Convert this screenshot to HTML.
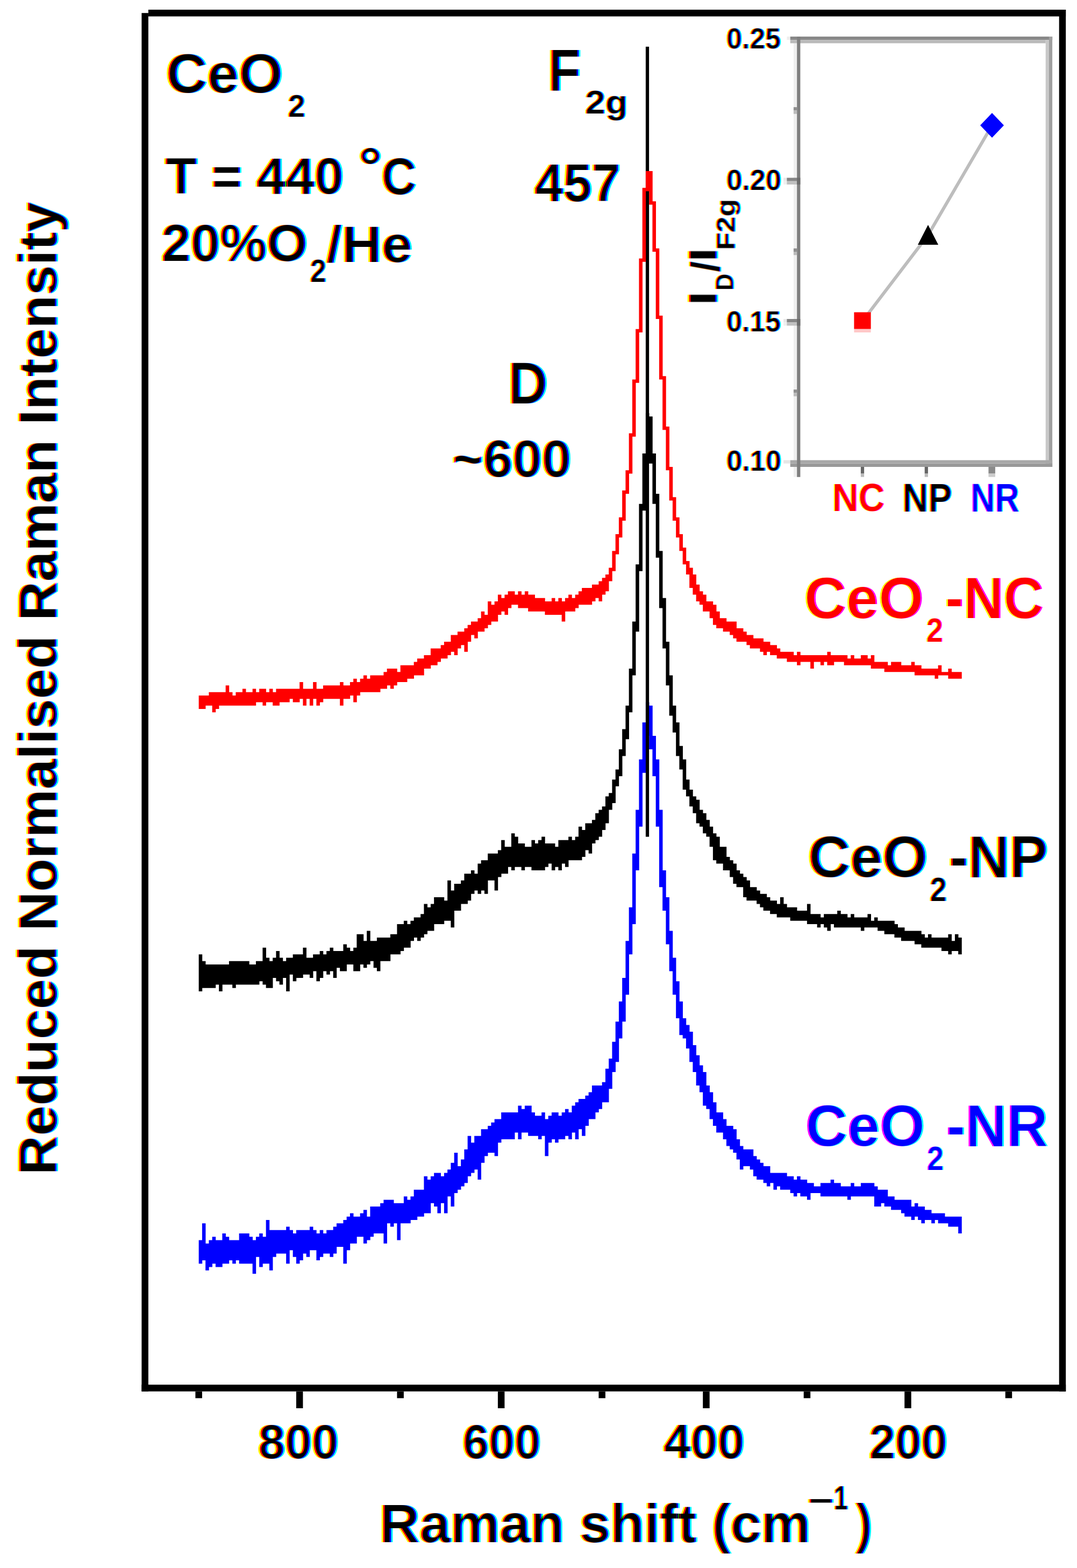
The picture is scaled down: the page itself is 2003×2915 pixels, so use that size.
<!DOCTYPE html>
<html><head><meta charset="utf-8"><title>CeO2 Raman spectra</title>
<style>
html,body{margin:0;padding:0;background:#fff;}
svg{display:block;}
text{font-family:"Liberation Sans",Arial,sans-serif;font-weight:bold;font-size:100px;}
</style></head>
<body>
<svg width="2003" height="2915" viewBox="0 0 2003 2915">
<defs><filter id="f_t_ceo" x="-0.15" y="-0.15" width="1.3" height="1.3" color-interpolation-filters="sRGB"><feOffset in="SourceAlpha" dx="-2.841" dy="-0.000" result="aL"/><feOffset in="SourceAlpha" dx="2.841" dy="0.000" result="aR"/><feFlood flood-color="#ffff00" result="fl0"/><feComposite in="fl0" in2="aL" operator="in" result="c0"/><feFlood flood-color="#ff00ff" result="fl1"/><feComposite in="fl1" in2="SourceAlpha" operator="in" result="c1"/><feFlood flood-color="#00ffff" result="fl2"/><feComposite in="fl2" in2="aR" operator="in" result="c2"/><feBlend in="c0" in2="c1" mode="multiply" result="b1"/><feBlend in="b1" in2="c2" mode="multiply" result="b2"/></filter>
<filter id="f_t_ceo2" x="-0.15" y="-0.15" width="1.3" height="1.3" color-interpolation-filters="sRGB"><feOffset in="SourceAlpha" dx="-3.600" dy="-0.000" result="aL"/><feOffset in="SourceAlpha" dx="3.600" dy="0.000" result="aR"/><feFlood flood-color="#ffff00" result="fl0"/><feComposite in="fl0" in2="aL" operator="in" result="c0"/><feFlood flood-color="#ff00ff" result="fl1"/><feComposite in="fl1" in2="SourceAlpha" operator="in" result="c1"/><feFlood flood-color="#00ffff" result="fl2"/><feComposite in="fl2" in2="aR" operator="in" result="c2"/><feBlend in="c0" in2="c1" mode="multiply" result="b1"/><feBlend in="b1" in2="c2" mode="multiply" result="b2"/></filter>
<filter id="f_t_T" x="-0.15" y="-0.15" width="1.3" height="1.3" color-interpolation-filters="sRGB"><feOffset in="SourceAlpha" dx="-3.092" dy="-0.000" result="aL"/><feOffset in="SourceAlpha" dx="3.092" dy="0.000" result="aR"/><feFlood flood-color="#ffff00" result="fl0"/><feComposite in="fl0" in2="aL" operator="in" result="c0"/><feFlood flood-color="#ff00ff" result="fl1"/><feComposite in="fl1" in2="SourceAlpha" operator="in" result="c1"/><feFlood flood-color="#00ffff" result="fl2"/><feComposite in="fl2" in2="aR" operator="in" result="c2"/><feBlend in="c0" in2="c1" mode="multiply" result="b1"/><feBlend in="b1" in2="c2" mode="multiply" result="b2"/></filter>
<filter id="f_t_deg" x="-0.15" y="-0.15" width="1.3" height="1.3" color-interpolation-filters="sRGB"><feOffset in="SourceAlpha" dx="-2.735" dy="-0.000" result="aL"/><feOffset in="SourceAlpha" dx="2.735" dy="0.000" result="aR"/><feFlood flood-color="#ffff00" result="fl0"/><feComposite in="fl0" in2="aL" operator="in" result="c0"/><feFlood flood-color="#ff00ff" result="fl1"/><feComposite in="fl1" in2="SourceAlpha" operator="in" result="c1"/><feFlood flood-color="#00ffff" result="fl2"/><feComposite in="fl2" in2="aR" operator="in" result="c2"/><feBlend in="c0" in2="c1" mode="multiply" result="b1"/><feBlend in="b1" in2="c2" mode="multiply" result="b2"/></filter>
<filter id="f_t_C" x="-0.15" y="-0.15" width="1.3" height="1.3" color-interpolation-filters="sRGB"><feOffset in="SourceAlpha" dx="-3.368" dy="-0.000" result="aL"/><feOffset in="SourceAlpha" dx="3.368" dy="0.000" result="aR"/><feFlood flood-color="#ffff00" result="fl0"/><feComposite in="fl0" in2="aL" operator="in" result="c0"/><feFlood flood-color="#ff00ff" result="fl1"/><feComposite in="fl1" in2="SourceAlpha" operator="in" result="c1"/><feFlood flood-color="#00ffff" result="fl2"/><feComposite in="fl2" in2="aR" operator="in" result="c2"/><feBlend in="c0" in2="c1" mode="multiply" result="b1"/><feBlend in="b1" in2="c2" mode="multiply" result="b2"/></filter>
<filter id="f_t_20" x="-0.15" y="-0.15" width="1.3" height="1.3" color-interpolation-filters="sRGB"><feOffset in="SourceAlpha" dx="-3.068" dy="-0.000" result="aL"/><feOffset in="SourceAlpha" dx="3.068" dy="0.000" result="aR"/><feFlood flood-color="#ffff00" result="fl0"/><feComposite in="fl0" in2="aL" operator="in" result="c0"/><feFlood flood-color="#ff00ff" result="fl1"/><feComposite in="fl1" in2="SourceAlpha" operator="in" result="c1"/><feFlood flood-color="#00ffff" result="fl2"/><feComposite in="fl2" in2="aR" operator="in" result="c2"/><feBlend in="c0" in2="c1" mode="multiply" result="b1"/><feBlend in="b1" in2="c2" mode="multiply" result="b2"/></filter>
<filter id="f_t_20s" x="-0.15" y="-0.15" width="1.3" height="1.3" color-interpolation-filters="sRGB"><feOffset in="SourceAlpha" dx="-3.877" dy="-0.000" result="aL"/><feOffset in="SourceAlpha" dx="3.877" dy="0.000" result="aR"/><feFlood flood-color="#ffff00" result="fl0"/><feComposite in="fl0" in2="aL" operator="in" result="c0"/><feFlood flood-color="#ff00ff" result="fl1"/><feComposite in="fl1" in2="SourceAlpha" operator="in" result="c1"/><feFlood flood-color="#00ffff" result="fl2"/><feComposite in="fl2" in2="aR" operator="in" result="c2"/><feBlend in="c0" in2="c1" mode="multiply" result="b1"/><feBlend in="b1" in2="c2" mode="multiply" result="b2"/></filter>
<filter id="f_t_he" x="-0.15" y="-0.15" width="1.3" height="1.3" color-interpolation-filters="sRGB"><feOffset in="SourceAlpha" dx="-2.922" dy="-0.000" result="aL"/><feOffset in="SourceAlpha" dx="2.922" dy="0.000" result="aR"/><feFlood flood-color="#ffff00" result="fl0"/><feComposite in="fl0" in2="aL" operator="in" result="c0"/><feFlood flood-color="#ff00ff" result="fl1"/><feComposite in="fl1" in2="SourceAlpha" operator="in" result="c1"/><feFlood flood-color="#00ffff" result="fl2"/><feComposite in="fl2" in2="aR" operator="in" result="c2"/><feBlend in="c0" in2="c1" mode="multiply" result="b1"/><feBlend in="b1" in2="c2" mode="multiply" result="b2"/></filter>
<filter id="f_t_F" x="-0.15" y="-0.15" width="1.3" height="1.3" color-interpolation-filters="sRGB"><feOffset in="SourceAlpha" dx="-3.000" dy="-0.000" result="aL"/><feOffset in="SourceAlpha" dx="3.000" dy="0.000" result="aR"/><feFlood flood-color="#ffff00" result="fl0"/><feComposite in="fl0" in2="aL" operator="in" result="c0"/><feFlood flood-color="#ff00ff" result="fl1"/><feComposite in="fl1" in2="SourceAlpha" operator="in" result="c1"/><feFlood flood-color="#00ffff" result="fl2"/><feComposite in="fl2" in2="aR" operator="in" result="c2"/><feBlend in="c0" in2="c1" mode="multiply" result="b1"/><feBlend in="b1" in2="c2" mode="multiply" result="b2"/></filter>
<filter id="f_t_2g" x="-0.15" y="-0.15" width="1.3" height="1.3" color-interpolation-filters="sRGB"><feOffset in="SourceAlpha" dx="-3.092" dy="-0.000" result="aL"/><feOffset in="SourceAlpha" dx="3.092" dy="0.000" result="aR"/><feFlood flood-color="#ffff00" result="fl0"/><feComposite in="fl0" in2="aL" operator="in" result="c0"/><feFlood flood-color="#ff00ff" result="fl1"/><feComposite in="fl1" in2="SourceAlpha" operator="in" result="c1"/><feFlood flood-color="#00ffff" result="fl2"/><feComposite in="fl2" in2="aR" operator="in" result="c2"/><feBlend in="c0" in2="c1" mode="multiply" result="b1"/><feBlend in="b1" in2="c2" mode="multiply" result="b2"/></filter>
<filter id="f_t_457" x="-0.15" y="-0.15" width="1.3" height="1.3" color-interpolation-filters="sRGB"><feOffset in="SourceAlpha" dx="-3.138" dy="-0.000" result="aL"/><feOffset in="SourceAlpha" dx="3.138" dy="0.000" result="aR"/><feFlood flood-color="#ffff00" result="fl0"/><feComposite in="fl0" in2="aL" operator="in" result="c0"/><feFlood flood-color="#ff00ff" result="fl1"/><feComposite in="fl1" in2="SourceAlpha" operator="in" result="c1"/><feFlood flood-color="#00ffff" result="fl2"/><feComposite in="fl2" in2="aR" operator="in" result="c2"/><feBlend in="c0" in2="c1" mode="multiply" result="b1"/><feBlend in="b1" in2="c2" mode="multiply" result="b2"/></filter>
<filter id="f_t_D" x="-0.15" y="-0.15" width="1.3" height="1.3" color-interpolation-filters="sRGB"><feOffset in="SourceAlpha" dx="-2.951" dy="-0.000" result="aL"/><feOffset in="SourceAlpha" dx="2.951" dy="0.000" result="aR"/><feFlood flood-color="#ffff00" result="fl0"/><feComposite in="fl0" in2="aL" operator="in" result="c0"/><feFlood flood-color="#ff00ff" result="fl1"/><feComposite in="fl1" in2="SourceAlpha" operator="in" result="c1"/><feFlood flood-color="#00ffff" result="fl2"/><feComposite in="fl2" in2="aR" operator="in" result="c2"/><feBlend in="c0" in2="c1" mode="multiply" result="b1"/><feBlend in="b1" in2="c2" mode="multiply" result="b2"/></filter>
<filter id="f_t_600" x="-0.15" y="-0.15" width="1.3" height="1.3" color-interpolation-filters="sRGB"><feOffset in="SourceAlpha" dx="-3.057" dy="-0.000" result="aL"/><feOffset in="SourceAlpha" dx="3.057" dy="0.000" result="aR"/><feFlood flood-color="#ffff00" result="fl0"/><feComposite in="fl0" in2="aL" operator="in" result="c0"/><feFlood flood-color="#ff00ff" result="fl1"/><feComposite in="fl1" in2="SourceAlpha" operator="in" result="c1"/><feFlood flood-color="#00ffff" result="fl2"/><feComposite in="fl2" in2="aR" operator="in" result="c2"/><feBlend in="c0" in2="c1" mode="multiply" result="b1"/><feBlend in="b1" in2="c2" mode="multiply" result="b2"/></filter>
<filter id="f_t_nc1" x="-0.15" y="-0.15" width="1.3" height="1.3" color-interpolation-filters="sRGB"><feOffset in="SourceAlpha" dx="-2.774" dy="-0.000" result="aL"/><feOffset in="SourceAlpha" dx="2.774" dy="0.000" result="aR"/><feFlood flood-color="#ffff00" result="fl0"/><feComposite in="fl0" in2="aL" operator="in" result="c0"/><feFlood flood-color="#ff00ff" result="fl1"/><feComposite in="fl1" in2="SourceAlpha" operator="in" result="c1"/><feBlend in="c0" in2="c1" mode="multiply" result="b1"/></filter>
<filter id="f_t_nc2" x="-0.15" y="-0.15" width="1.3" height="1.3" color-interpolation-filters="sRGB"><feOffset in="SourceAlpha" dx="-3.733" dy="-0.000" result="aL"/><feOffset in="SourceAlpha" dx="3.733" dy="0.000" result="aR"/><feFlood flood-color="#ffff00" result="fl0"/><feComposite in="fl0" in2="aL" operator="in" result="c0"/><feFlood flood-color="#ff00ff" result="fl1"/><feComposite in="fl1" in2="SourceAlpha" operator="in" result="c1"/><feBlend in="c0" in2="c1" mode="multiply" result="b1"/></filter>
<filter id="f_t_nc3" x="-0.15" y="-0.15" width="1.3" height="1.3" color-interpolation-filters="sRGB"><feOffset in="SourceAlpha" dx="-2.914" dy="-0.000" result="aL"/><feOffset in="SourceAlpha" dx="2.914" dy="0.000" result="aR"/><feFlood flood-color="#ffff00" result="fl0"/><feComposite in="fl0" in2="aL" operator="in" result="c0"/><feFlood flood-color="#ff00ff" result="fl1"/><feComposite in="fl1" in2="SourceAlpha" operator="in" result="c1"/><feBlend in="c0" in2="c1" mode="multiply" result="b1"/></filter>
<filter id="f_t_np1" x="-0.15" y="-0.15" width="1.3" height="1.3" color-interpolation-filters="sRGB"><feOffset in="SourceAlpha" dx="-2.774" dy="-0.000" result="aL"/><feOffset in="SourceAlpha" dx="2.774" dy="0.000" result="aR"/><feFlood flood-color="#ffff00" result="fl0"/><feComposite in="fl0" in2="aL" operator="in" result="c0"/><feFlood flood-color="#ff00ff" result="fl1"/><feComposite in="fl1" in2="SourceAlpha" operator="in" result="c1"/><feFlood flood-color="#00ffff" result="fl2"/><feComposite in="fl2" in2="aR" operator="in" result="c2"/><feBlend in="c0" in2="c1" mode="multiply" result="b1"/><feBlend in="b1" in2="c2" mode="multiply" result="b2"/></filter>
<filter id="f_t_np2" x="-0.15" y="-0.15" width="1.3" height="1.3" color-interpolation-filters="sRGB"><feOffset in="SourceAlpha" dx="-3.733" dy="-0.000" result="aL"/><feOffset in="SourceAlpha" dx="3.733" dy="0.000" result="aR"/><feFlood flood-color="#ffff00" result="fl0"/><feComposite in="fl0" in2="aL" operator="in" result="c0"/><feFlood flood-color="#ff00ff" result="fl1"/><feComposite in="fl1" in2="SourceAlpha" operator="in" result="c1"/><feFlood flood-color="#00ffff" result="fl2"/><feComposite in="fl2" in2="aR" operator="in" result="c2"/><feBlend in="c0" in2="c1" mode="multiply" result="b1"/><feBlend in="b1" in2="c2" mode="multiply" result="b2"/></filter>
<filter id="f_t_np3" x="-0.15" y="-0.15" width="1.3" height="1.3" color-interpolation-filters="sRGB"><feOffset in="SourceAlpha" dx="-2.811" dy="-0.000" result="aL"/><feOffset in="SourceAlpha" dx="2.811" dy="0.000" result="aR"/><feFlood flood-color="#ffff00" result="fl0"/><feComposite in="fl0" in2="aL" operator="in" result="c0"/><feFlood flood-color="#ff00ff" result="fl1"/><feComposite in="fl1" in2="SourceAlpha" operator="in" result="c1"/><feFlood flood-color="#00ffff" result="fl2"/><feComposite in="fl2" in2="aR" operator="in" result="c2"/><feBlend in="c0" in2="c1" mode="multiply" result="b1"/><feBlend in="b1" in2="c2" mode="multiply" result="b2"/></filter>
<filter id="f_t_nr1" x="-0.15" y="-0.15" width="1.3" height="1.3" color-interpolation-filters="sRGB"><feOffset in="SourceAlpha" dx="-2.774" dy="-0.000" result="aL"/><feOffset in="SourceAlpha" dx="2.774" dy="0.000" result="aR"/><feFlood flood-color="#ff00ff" result="fl0"/><feComposite in="fl0" in2="SourceAlpha" operator="in" result="c0"/><feFlood flood-color="#00ffff" result="fl1"/><feComposite in="fl1" in2="aR" operator="in" result="c1"/><feBlend in="c0" in2="c1" mode="multiply" result="b1"/></filter>
<filter id="f_t_nr2" x="-0.15" y="-0.15" width="1.3" height="1.3" color-interpolation-filters="sRGB"><feOffset in="SourceAlpha" dx="-3.733" dy="-0.000" result="aL"/><feOffset in="SourceAlpha" dx="3.733" dy="0.000" result="aR"/><feFlood flood-color="#ff00ff" result="fl0"/><feComposite in="fl0" in2="SourceAlpha" operator="in" result="c0"/><feFlood flood-color="#00ffff" result="fl1"/><feComposite in="fl1" in2="aR" operator="in" result="c1"/><feBlend in="c0" in2="c1" mode="multiply" result="b1"/></filter>
<filter id="f_t_nr3" x="-0.15" y="-0.15" width="1.3" height="1.3" color-interpolation-filters="sRGB"><feOffset in="SourceAlpha" dx="-2.818" dy="-0.000" result="aL"/><feOffset in="SourceAlpha" dx="2.818" dy="0.000" result="aR"/><feFlood flood-color="#ff00ff" result="fl0"/><feComposite in="fl0" in2="SourceAlpha" operator="in" result="c0"/><feFlood flood-color="#00ffff" result="fl1"/><feComposite in="fl1" in2="aR" operator="in" result="c1"/><feBlend in="c0" in2="c1" mode="multiply" result="b1"/></filter>
<filter id="f_t_800" x="-0.15" y="-0.15" width="1.3" height="1.3" color-interpolation-filters="sRGB"><feOffset in="SourceAlpha" dx="-3.359" dy="-0.000" result="aL"/><feOffset in="SourceAlpha" dx="3.359" dy="0.000" result="aR"/><feFlood flood-color="#ffff00" result="fl0"/><feComposite in="fl0" in2="aL" operator="in" result="c0"/><feFlood flood-color="#ff00ff" result="fl1"/><feComposite in="fl1" in2="SourceAlpha" operator="in" result="c1"/><feFlood flood-color="#00ffff" result="fl2"/><feComposite in="fl2" in2="aR" operator="in" result="c2"/><feBlend in="c0" in2="c1" mode="multiply" result="b1"/><feBlend in="b1" in2="c2" mode="multiply" result="b2"/></filter>
<filter id="f_t_600b" x="-0.15" y="-0.15" width="1.3" height="1.3" color-interpolation-filters="sRGB"><feOffset in="SourceAlpha" dx="-3.460" dy="-0.000" result="aL"/><feOffset in="SourceAlpha" dx="3.460" dy="0.000" result="aR"/><feFlood flood-color="#ffff00" result="fl0"/><feComposite in="fl0" in2="aL" operator="in" result="c0"/><feFlood flood-color="#ff00ff" result="fl1"/><feComposite in="fl1" in2="SourceAlpha" operator="in" result="c1"/><feFlood flood-color="#00ffff" result="fl2"/><feComposite in="fl2" in2="aR" operator="in" result="c2"/><feBlend in="c0" in2="c1" mode="multiply" result="b1"/><feBlend in="b1" in2="c2" mode="multiply" result="b2"/></filter>
<filter id="f_t_400" x="-0.15" y="-0.15" width="1.3" height="1.3" color-interpolation-filters="sRGB"><feOffset in="SourceAlpha" dx="-3.333" dy="-0.000" result="aL"/><feOffset in="SourceAlpha" dx="3.333" dy="0.000" result="aR"/><feFlood flood-color="#ffff00" result="fl0"/><feComposite in="fl0" in2="aL" operator="in" result="c0"/><feFlood flood-color="#ff00ff" result="fl1"/><feComposite in="fl1" in2="SourceAlpha" operator="in" result="c1"/><feFlood flood-color="#00ffff" result="fl2"/><feComposite in="fl2" in2="aR" operator="in" result="c2"/><feBlend in="c0" in2="c1" mode="multiply" result="b1"/><feBlend in="b1" in2="c2" mode="multiply" result="b2"/></filter>
<filter id="f_t_200" x="-0.15" y="-0.15" width="1.3" height="1.3" color-interpolation-filters="sRGB"><feOffset in="SourceAlpha" dx="-3.457" dy="-0.000" result="aL"/><feOffset in="SourceAlpha" dx="3.457" dy="0.000" result="aR"/><feFlood flood-color="#ffff00" result="fl0"/><feComposite in="fl0" in2="aL" operator="in" result="c0"/><feFlood flood-color="#ff00ff" result="fl1"/><feComposite in="fl1" in2="SourceAlpha" operator="in" result="c1"/><feFlood flood-color="#00ffff" result="fl2"/><feComposite in="fl2" in2="aR" operator="in" result="c2"/><feBlend in="c0" in2="c1" mode="multiply" result="b1"/><feBlend in="b1" in2="c2" mode="multiply" result="b2"/></filter>
<filter id="f_t_raman" x="-0.15" y="-0.15" width="1.3" height="1.3" color-interpolation-filters="sRGB"><feOffset in="SourceAlpha" dx="-2.912" dy="-0.000" result="aL"/><feOffset in="SourceAlpha" dx="2.912" dy="0.000" result="aR"/><feFlood flood-color="#ffff00" result="fl0"/><feComposite in="fl0" in2="aL" operator="in" result="c0"/><feFlood flood-color="#ff00ff" result="fl1"/><feComposite in="fl1" in2="SourceAlpha" operator="in" result="c1"/><feFlood flood-color="#00ffff" result="fl2"/><feComposite in="fl2" in2="aR" operator="in" result="c2"/><feBlend in="c0" in2="c1" mode="multiply" result="b1"/><feBlend in="b1" in2="c2" mode="multiply" result="b2"/></filter>
<filter id="f_t_minus" x="-0.15" y="-0.15" width="1.3" height="1.3" color-interpolation-filters="sRGB"><feOffset in="SourceAlpha" dx="-3.585" dy="-0.000" result="aL"/><feOffset in="SourceAlpha" dx="3.585" dy="0.000" result="aR"/><feFlood flood-color="#ffff00" result="fl0"/><feComposite in="fl0" in2="aL" operator="in" result="c0"/><feFlood flood-color="#ff00ff" result="fl1"/><feComposite in="fl1" in2="SourceAlpha" operator="in" result="c1"/><feFlood flood-color="#00ffff" result="fl2"/><feComposite in="fl2" in2="aR" operator="in" result="c2"/><feBlend in="c0" in2="c1" mode="multiply" result="b1"/><feBlend in="b1" in2="c2" mode="multiply" result="b2"/></filter>
<filter id="f_t_one" x="-0.15" y="-0.15" width="1.3" height="1.3" color-interpolation-filters="sRGB"><feOffset in="SourceAlpha" dx="-4.391" dy="-0.000" result="aL"/><feOffset in="SourceAlpha" dx="4.391" dy="0.000" result="aR"/><feFlood flood-color="#ffff00" result="fl0"/><feComposite in="fl0" in2="aL" operator="in" result="c0"/><feFlood flood-color="#ff00ff" result="fl1"/><feComposite in="fl1" in2="SourceAlpha" operator="in" result="c1"/><feFlood flood-color="#00ffff" result="fl2"/><feComposite in="fl2" in2="aR" operator="in" result="c2"/><feBlend in="c0" in2="c1" mode="multiply" result="b1"/><feBlend in="b1" in2="c2" mode="multiply" result="b2"/></filter>
<filter id="f_t_rpar" x="-0.15" y="-0.15" width="1.3" height="1.3" color-interpolation-filters="sRGB"><feOffset in="SourceAlpha" dx="-3.375" dy="-0.000" result="aL"/><feOffset in="SourceAlpha" dx="3.375" dy="0.000" result="aR"/><feFlood flood-color="#ffff00" result="fl0"/><feComposite in="fl0" in2="aL" operator="in" result="c0"/><feFlood flood-color="#ff00ff" result="fl1"/><feComposite in="fl1" in2="SourceAlpha" operator="in" result="c1"/><feFlood flood-color="#00ffff" result="fl2"/><feComposite in="fl2" in2="aR" operator="in" result="c2"/><feBlend in="c0" in2="c1" mode="multiply" result="b1"/><feBlend in="b1" in2="c2" mode="multiply" result="b2"/></filter>
<filter id="f_t_ylab" x="-0.15" y="-0.15" width="1.3" height="1.3" color-interpolation-filters="sRGB"><feOffset in="SourceAlpha" dx="-0.000" dy="-3.000" result="aL"/><feOffset in="SourceAlpha" dx="0.000" dy="3.000" result="aR"/><feFlood flood-color="#ffff00" result="fl0"/><feComposite in="fl0" in2="aL" operator="in" result="c0"/><feFlood flood-color="#ff00ff" result="fl1"/><feComposite in="fl1" in2="SourceAlpha" operator="in" result="c1"/><feFlood flood-color="#00ffff" result="fl2"/><feComposite in="fl2" in2="aR" operator="in" result="c2"/><feBlend in="c0" in2="c1" mode="multiply" result="b1"/><feBlend in="b1" in2="c2" mode="multiply" result="b2"/></filter>
<filter id="f_t_i25" x="-0.15" y="-0.15" width="1.3" height="1.3" color-interpolation-filters="sRGB"><feOffset in="SourceAlpha" dx="-4.048" dy="-0.000" result="aL"/><feOffset in="SourceAlpha" dx="4.048" dy="0.000" result="aR"/><feFlood flood-color="#ffff00" result="fl0"/><feComposite in="fl0" in2="aL" operator="in" result="c0"/><feFlood flood-color="#ff00ff" result="fl1"/><feComposite in="fl1" in2="SourceAlpha" operator="in" result="c1"/><feFlood flood-color="#00ffff" result="fl2"/><feComposite in="fl2" in2="aR" operator="in" result="c2"/><feBlend in="c0" in2="c1" mode="multiply" result="b1"/><feBlend in="b1" in2="c2" mode="multiply" result="b2"/></filter>
<filter id="f_t_i20" x="-0.15" y="-0.15" width="1.3" height="1.3" color-interpolation-filters="sRGB"><feOffset in="SourceAlpha" dx="-4.005" dy="-0.000" result="aL"/><feOffset in="SourceAlpha" dx="4.005" dy="0.000" result="aR"/><feFlood flood-color="#ffff00" result="fl0"/><feComposite in="fl0" in2="aL" operator="in" result="c0"/><feFlood flood-color="#ff00ff" result="fl1"/><feComposite in="fl1" in2="SourceAlpha" operator="in" result="c1"/><feFlood flood-color="#00ffff" result="fl2"/><feComposite in="fl2" in2="aR" operator="in" result="c2"/><feBlend in="c0" in2="c1" mode="multiply" result="b1"/><feBlend in="b1" in2="c2" mode="multiply" result="b2"/></filter>
<filter id="f_t_i15" x="-0.15" y="-0.15" width="1.3" height="1.3" color-interpolation-filters="sRGB"><feOffset in="SourceAlpha" dx="-4.048" dy="-0.000" result="aL"/><feOffset in="SourceAlpha" dx="4.048" dy="0.000" result="aR"/><feFlood flood-color="#ffff00" result="fl0"/><feComposite in="fl0" in2="aL" operator="in" result="c0"/><feFlood flood-color="#ff00ff" result="fl1"/><feComposite in="fl1" in2="SourceAlpha" operator="in" result="c1"/><feFlood flood-color="#00ffff" result="fl2"/><feComposite in="fl2" in2="aR" operator="in" result="c2"/><feBlend in="c0" in2="c1" mode="multiply" result="b1"/><feBlend in="b1" in2="c2" mode="multiply" result="b2"/></filter>
<filter id="f_t_i10" x="-0.15" y="-0.15" width="1.3" height="1.3" color-interpolation-filters="sRGB"><feOffset in="SourceAlpha" dx="-4.005" dy="-0.000" result="aL"/><feOffset in="SourceAlpha" dx="4.005" dy="0.000" result="aR"/><feFlood flood-color="#ffff00" result="fl0"/><feComposite in="fl0" in2="aL" operator="in" result="c0"/><feFlood flood-color="#ff00ff" result="fl1"/><feComposite in="fl1" in2="SourceAlpha" operator="in" result="c1"/><feFlood flood-color="#00ffff" result="fl2"/><feComposite in="fl2" in2="aR" operator="in" result="c2"/><feBlend in="c0" in2="c1" mode="multiply" result="b1"/><feBlend in="b1" in2="c2" mode="multiply" result="b2"/></filter>
<filter id="f_t_iNC" x="-0.15" y="-0.15" width="1.3" height="1.3" color-interpolation-filters="sRGB"><feOffset in="SourceAlpha" dx="-3.103" dy="-0.000" result="aL"/><feOffset in="SourceAlpha" dx="3.103" dy="0.000" result="aR"/><feFlood flood-color="#ffff00" result="fl0"/><feComposite in="fl0" in2="aL" operator="in" result="c0"/><feFlood flood-color="#ff00ff" result="fl1"/><feComposite in="fl1" in2="SourceAlpha" operator="in" result="c1"/><feBlend in="c0" in2="c1" mode="multiply" result="b1"/></filter>
<filter id="f_t_iNP" x="-0.15" y="-0.15" width="1.3" height="1.3" color-interpolation-filters="sRGB"><feOffset in="SourceAlpha" dx="-3.175" dy="-0.000" result="aL"/><feOffset in="SourceAlpha" dx="3.175" dy="0.000" result="aR"/><feFlood flood-color="#ffff00" result="fl0"/><feComposite in="fl0" in2="aL" operator="in" result="c0"/><feFlood flood-color="#ff00ff" result="fl1"/><feComposite in="fl1" in2="SourceAlpha" operator="in" result="c1"/><feFlood flood-color="#00ffff" result="fl2"/><feComposite in="fl2" in2="aR" operator="in" result="c2"/><feBlend in="c0" in2="c1" mode="multiply" result="b1"/><feBlend in="b1" in2="c2" mode="multiply" result="b2"/></filter>
<filter id="f_t_iNR" x="-0.15" y="-0.15" width="1.3" height="1.3" color-interpolation-filters="sRGB"><feOffset in="SourceAlpha" dx="-3.350" dy="-0.000" result="aL"/><feOffset in="SourceAlpha" dx="3.350" dy="0.000" result="aR"/><feFlood flood-color="#ff00ff" result="fl0"/><feComposite in="fl0" in2="SourceAlpha" operator="in" result="c0"/><feFlood flood-color="#00ffff" result="fl1"/><feComposite in="fl1" in2="aR" operator="in" result="c1"/><feBlend in="c0" in2="c1" mode="multiply" result="b1"/></filter>
<filter id="f_t_iI1" x="-0.15" y="-0.15" width="1.3" height="1.3" color-interpolation-filters="sRGB"><feOffset in="SourceAlpha" dx="-0.000" dy="-4.080" result="aL"/><feOffset in="SourceAlpha" dx="0.000" dy="4.080" result="aR"/><feFlood flood-color="#ffff00" result="fl0"/><feComposite in="fl0" in2="aL" operator="in" result="c0"/><feFlood flood-color="#ff00ff" result="fl1"/><feComposite in="fl1" in2="SourceAlpha" operator="in" result="c1"/><feFlood flood-color="#00ffff" result="fl2"/><feComposite in="fl2" in2="aR" operator="in" result="c2"/><feBlend in="c0" in2="c1" mode="multiply" result="b1"/><feBlend in="b1" in2="c2" mode="multiply" result="b2"/></filter>
<filter id="f_t_iD" x="-0.15" y="-0.15" width="1.3" height="1.3" color-interpolation-filters="sRGB"><feOffset in="SourceAlpha" dx="-0.000" dy="-4.606" result="aL"/><feOffset in="SourceAlpha" dx="0.000" dy="4.606" result="aR"/><feFlood flood-color="#ffff00" result="fl0"/><feComposite in="fl0" in2="aL" operator="in" result="c0"/><feFlood flood-color="#ff00ff" result="fl1"/><feComposite in="fl1" in2="SourceAlpha" operator="in" result="c1"/><feFlood flood-color="#00ffff" result="fl2"/><feComposite in="fl2" in2="aR" operator="in" result="c2"/><feBlend in="c0" in2="c1" mode="multiply" result="b1"/><feBlend in="b1" in2="c2" mode="multiply" result="b2"/></filter>
<filter id="f_t_iSl" x="-0.15" y="-0.15" width="1.3" height="1.3" color-interpolation-filters="sRGB"><feOffset in="SourceAlpha" dx="-0.000" dy="-2.737" result="aL"/><feOffset in="SourceAlpha" dx="0.000" dy="2.737" result="aR"/><feFlood flood-color="#ffff00" result="fl0"/><feComposite in="fl0" in2="aL" operator="in" result="c0"/><feFlood flood-color="#ff00ff" result="fl1"/><feComposite in="fl1" in2="SourceAlpha" operator="in" result="c1"/><feFlood flood-color="#00ffff" result="fl2"/><feComposite in="fl2" in2="aR" operator="in" result="c2"/><feBlend in="c0" in2="c1" mode="multiply" result="b1"/><feBlend in="b1" in2="c2" mode="multiply" result="b2"/></filter>
<filter id="f_t_iI2" x="-0.15" y="-0.15" width="1.3" height="1.3" color-interpolation-filters="sRGB"><feOffset in="SourceAlpha" dx="-0.000" dy="-4.080" result="aL"/><feOffset in="SourceAlpha" dx="0.000" dy="4.080" result="aR"/><feFlood flood-color="#ffff00" result="fl0"/><feComposite in="fl0" in2="aL" operator="in" result="c0"/><feFlood flood-color="#ff00ff" result="fl1"/><feComposite in="fl1" in2="SourceAlpha" operator="in" result="c1"/><feFlood flood-color="#00ffff" result="fl2"/><feComposite in="fl2" in2="aR" operator="in" result="c2"/><feBlend in="c0" in2="c1" mode="multiply" result="b1"/><feBlend in="b1" in2="c2" mode="multiply" result="b2"/></filter>
<filter id="f_t_iF" x="-0.15" y="-0.15" width="1.3" height="1.3" color-interpolation-filters="sRGB"><feOffset in="SourceAlpha" dx="-0.000" dy="-4.295" result="aL"/><feOffset in="SourceAlpha" dx="0.000" dy="4.295" result="aR"/><feFlood flood-color="#ffff00" result="fl0"/><feComposite in="fl0" in2="aL" operator="in" result="c0"/><feFlood flood-color="#ff00ff" result="fl1"/><feComposite in="fl1" in2="SourceAlpha" operator="in" result="c1"/><feFlood flood-color="#00ffff" result="fl2"/><feComposite in="fl2" in2="aR" operator="in" result="c2"/><feBlend in="c0" in2="c1" mode="multiply" result="b1"/><feBlend in="b1" in2="c2" mode="multiply" result="b2"/></filter></defs>
<rect x="0" y="0" width="2003" height="2915" fill="#fff"/>
<path fill="#00f" d="M369.65 2305.50H376.20V2349.25H369.65ZM375.90 2274.25H382.45V2343.00H375.90ZM382.15 2311.75H388.70V2361.75H382.15ZM388.40 2305.50H394.95V2355.50H388.40ZM394.65 2299.25H401.20V2349.25H394.65ZM400.90 2305.50H407.45V2355.50H400.90ZM407.15 2305.50H413.70V2355.50H407.15ZM413.40 2293.00H419.95V2349.25H413.40ZM419.65 2299.25H426.20V2349.25H419.65ZM425.90 2305.50H432.45V2343.00H425.90ZM432.15 2305.50H438.70V2349.25H432.15ZM438.40 2305.50H444.95V2343.00H438.40ZM444.65 2293.00H451.20V2349.25H444.65ZM450.90 2293.00H457.45V2349.25H450.90ZM457.15 2293.00H463.70V2349.25H457.15ZM463.40 2299.25H469.95V2349.25H463.40ZM469.65 2305.50H476.20V2368.00H469.65ZM475.90 2299.25H482.45V2336.75H475.90ZM482.15 2293.00H488.70V2355.50H482.15ZM488.40 2299.25H494.95V2349.25H488.40ZM494.65 2268.00H501.20V2349.25H494.65ZM500.90 2286.75H507.45V2361.75H500.90ZM507.15 2286.75H513.70V2336.75H507.15ZM513.40 2286.75H519.95V2330.50H513.40ZM519.65 2286.75H526.20V2330.50H519.65ZM525.90 2286.75H532.45V2330.50H525.90ZM532.15 2280.50H538.70V2349.25H532.15ZM538.40 2286.75H544.95V2324.25H538.40ZM544.65 2293.00H551.20V2336.75H544.65ZM550.90 2286.75H557.45V2349.25H550.90ZM557.15 2286.75H563.70V2343.00H557.15ZM563.40 2286.75H569.95V2330.50H563.40ZM569.65 2286.75H576.20V2336.75H569.65ZM575.90 2280.50H582.45V2324.25H575.90ZM582.15 2286.75H588.70V2324.25H582.15ZM588.40 2293.00H594.95V2343.00H588.40ZM594.65 2286.75H601.20V2336.75H594.65ZM600.90 2293.00H607.45V2330.50H600.90ZM607.15 2286.75H613.70V2330.50H607.15ZM613.40 2286.75H619.95V2336.75H613.40ZM619.65 2280.50H626.20V2330.50H619.65ZM625.90 2274.25H632.45V2318.00H625.90ZM632.15 2274.25H638.70V2318.00H632.15ZM638.40 2268.00H644.95V2349.25H638.40ZM644.65 2261.75H651.20V2324.25H644.65ZM650.90 2255.50H657.45V2311.75H650.90ZM657.15 2261.75H663.70V2311.75H657.15ZM663.40 2261.75H669.95V2299.25H663.40ZM669.65 2255.50H676.20V2299.25H669.65ZM675.90 2249.25H682.45V2311.75H675.90ZM682.15 2261.75H688.70V2305.50H682.15ZM688.40 2243.00H694.95V2299.25H688.40ZM694.65 2243.00H701.20V2293.00H694.65ZM700.90 2243.00H707.45V2293.00H700.90ZM707.15 2236.75H713.70V2293.00H707.15ZM713.40 2230.50H719.95V2311.75H713.40ZM719.65 2230.50H726.20V2274.25H719.65ZM725.90 2230.50H732.45V2280.50H725.90ZM732.15 2236.75H738.70V2274.25H732.15ZM738.40 2236.75H744.95V2305.50H738.40ZM744.65 2236.75H751.20V2274.25H744.65ZM750.90 2224.25H757.45V2274.25H750.90ZM757.15 2230.50H763.70V2274.25H757.15ZM763.40 2224.25H769.95V2268.00H763.40ZM769.65 2211.75H776.20V2268.00H769.65ZM775.90 2211.75H782.45V2261.75H775.90ZM782.15 2211.75H788.70V2261.75H782.15ZM788.40 2186.75H794.95V2255.50H788.40ZM794.65 2193.00H801.20V2255.50H794.65ZM800.90 2186.75H807.45V2236.75H800.90ZM807.15 2180.50H813.70V2243.00H807.15ZM813.40 2180.50H819.95V2255.50H813.40ZM819.65 2186.75H826.20V2236.75H819.65ZM825.90 2180.50H832.45V2255.50H825.90ZM832.15 2174.25H838.70V2224.25H832.15ZM838.40 2161.75H844.95V2243.00H838.40ZM844.65 2143.00H851.20V2218.00H844.65ZM850.90 2168.00H857.45V2211.75H850.90ZM857.15 2155.50H863.70V2205.50H857.15ZM863.40 2136.75H869.95V2199.25H863.40ZM869.65 2111.75H876.20V2186.75H869.65ZM875.90 2124.25H882.45V2180.50H875.90ZM882.15 2111.75H888.70V2174.25H882.15ZM888.40 2111.75H894.95V2193.00H888.40ZM894.65 2099.25H901.20V2161.75H894.65ZM900.90 2099.25H907.45V2149.25H900.90ZM907.15 2093.00H913.70V2143.00H907.15ZM913.40 2086.75H919.95V2143.00H913.40ZM919.65 2080.50H926.20V2149.25H919.65ZM925.90 2080.50H932.45V2124.25H925.90ZM932.15 2068.00H938.70V2118.00H932.15ZM938.40 2068.00H944.95V2118.00H938.40ZM944.65 2068.00H951.20V2118.00H944.65ZM950.90 2068.00H957.45V2118.00H950.90ZM957.15 2068.00H963.70V2105.50H957.15ZM963.40 2055.50H969.95V2118.00H963.40ZM969.65 2061.75H976.20V2105.50H969.65ZM975.90 2055.50H982.45V2105.50H975.90ZM982.15 2055.50H988.70V2111.75H982.15ZM988.40 2068.00H994.95V2111.75H988.40ZM994.65 2074.25H1001.20V2111.75H994.65ZM1000.90 2074.25H1007.45V2118.00H1000.90ZM1007.15 2068.00H1013.70V2111.75H1007.15ZM1013.40 2080.50H1019.95V2149.25H1013.40ZM1019.65 2074.25H1026.20V2124.25H1019.65ZM1025.90 2068.00H1032.45V2118.00H1025.90ZM1032.15 2068.00H1038.70V2124.25H1032.15ZM1038.40 2074.25H1044.95V2118.00H1038.40ZM1044.65 2068.00H1051.20V2118.00H1044.65ZM1050.90 2061.75H1057.45V2111.75H1050.90ZM1057.15 2068.00H1063.70V2118.00H1057.15ZM1063.40 2055.50H1069.95V2105.50H1063.40ZM1069.65 2049.25H1076.20V2118.00H1069.65ZM1075.90 2043.00H1082.45V2099.25H1075.90ZM1082.15 2043.00H1088.70V2111.75H1082.15ZM1088.40 2036.75H1094.95V2093.00H1088.40ZM1094.65 2030.50H1101.20V2080.50H1094.65ZM1100.90 2018.00H1107.45V2080.50H1100.90ZM1107.15 2018.00H1113.70V2068.00H1107.15ZM1113.40 2018.00H1119.95V2061.75H1113.40ZM1119.65 2011.75H1126.20V2049.25H1119.65ZM1125.90 1986.75H1132.45V2049.25H1125.90ZM1132.15 1968.00H1138.70V2024.25H1132.15ZM1138.40 1936.75H1144.95V1993.00H1138.40ZM1144.65 1899.25H1151.20V1974.25H1144.65ZM1150.90 1861.75H1157.45V1930.50H1150.90ZM1157.15 1818.00H1163.70V1899.25H1157.15ZM1163.40 1749.25H1169.95V1849.25H1163.40ZM1169.65 1686.75H1176.20V1774.25H1169.65ZM1175.90 1586.75H1182.45V1718.00H1175.90ZM1182.15 1505.50H1188.70V1618.00H1182.15ZM1188.40 1411.75H1194.95V1536.75H1188.40ZM1194.65 1343.00H1201.20V1436.75H1194.65ZM1200.90 1305.50H1207.45V1368.00H1200.90ZM1207.15 1311.75H1213.70V1393.00H1207.15ZM1213.40 1368.00H1219.95V1443.00H1213.40ZM1219.65 1411.75H1226.20V1536.75H1219.65ZM1225.90 1505.50H1232.45V1649.25H1225.90ZM1232.15 1618.00H1238.70V1693.00H1232.15ZM1238.40 1668.00H1244.95V1755.50H1238.40ZM1244.65 1730.50H1251.20V1805.50H1244.65ZM1250.90 1780.50H1257.45V1849.25H1250.90ZM1257.15 1824.25H1263.70V1893.00H1257.15ZM1263.40 1861.75H1269.95V1924.25H1263.40ZM1269.65 1893.00H1276.20V1930.50H1269.65ZM1275.90 1905.50H1282.45V1949.25H1275.90ZM1282.15 1918.00H1288.70V1974.25H1282.15ZM1288.40 1943.00H1294.95V1993.00H1288.40ZM1294.65 1961.75H1301.20V2018.00H1294.65ZM1300.90 1980.50H1307.45V2030.50H1300.90ZM1307.15 1993.00H1313.70V2055.50H1307.15ZM1313.40 2018.00H1319.95V2061.75H1313.40ZM1319.65 2030.50H1326.20V2080.50H1319.65ZM1325.90 2049.25H1332.45V2093.00H1325.90ZM1332.15 2068.00H1338.70V2105.50H1332.15ZM1338.40 2068.00H1344.95V2105.50H1338.40ZM1344.65 2080.50H1351.20V2118.00H1344.65ZM1350.90 2093.00H1357.45V2130.50H1350.90ZM1357.15 2093.00H1363.70V2136.75H1357.15ZM1363.40 2099.25H1369.95V2143.00H1363.40ZM1369.65 2118.00H1376.20V2155.50H1369.65ZM1375.90 2130.50H1382.45V2174.25H1375.90ZM1382.15 2136.75H1388.70V2168.00H1382.15ZM1388.40 2136.75H1394.95V2168.00H1388.40ZM1394.65 2136.75H1401.20V2174.25H1394.65ZM1400.90 2149.25H1407.45V2186.75H1400.90ZM1407.15 2155.50H1413.70V2193.00H1407.15ZM1413.40 2161.75H1419.95V2193.00H1413.40ZM1419.65 2168.00H1426.20V2199.25H1419.65ZM1425.90 2168.00H1432.45V2205.50H1425.90ZM1432.15 2180.50H1438.70V2199.25H1432.15ZM1438.40 2180.50H1444.95V2211.75H1438.40ZM1444.65 2180.50H1451.20V2205.50H1444.65ZM1450.90 2180.50H1457.45V2211.75H1450.90ZM1457.15 2180.50H1463.70V2211.75H1457.15ZM1463.40 2186.75H1469.95V2211.75H1463.40ZM1469.65 2186.75H1476.20V2218.00H1469.65ZM1475.90 2193.00H1482.45V2224.25H1475.90ZM1482.15 2186.75H1488.70V2218.00H1482.15ZM1488.40 2193.00H1494.95V2224.25H1488.40ZM1494.65 2193.00H1501.20V2224.25H1494.65ZM1500.90 2199.25H1507.45V2230.50H1500.90ZM1507.15 2199.25H1513.70V2218.00H1507.15ZM1513.40 2205.50H1519.95V2218.00H1513.40ZM1519.65 2205.50H1526.20V2218.00H1519.65ZM1525.90 2199.25H1532.45V2224.25H1525.90ZM1532.15 2199.25H1538.70V2224.25H1532.15ZM1538.40 2199.25H1544.95V2224.25H1538.40ZM1544.65 2193.00H1551.20V2224.25H1544.65ZM1550.90 2199.25H1557.45V2224.25H1550.90ZM1557.15 2199.25H1563.70V2224.25H1557.15ZM1563.40 2205.50H1569.95V2224.25H1563.40ZM1569.65 2205.50H1576.20V2224.25H1569.65ZM1575.90 2205.50H1582.45V2230.50H1575.90ZM1582.15 2199.25H1588.70V2224.25H1582.15ZM1588.40 2205.50H1594.95V2224.25H1588.40ZM1594.65 2205.50H1601.20V2224.25H1594.65ZM1600.90 2199.25H1607.45V2224.25H1600.90ZM1607.15 2199.25H1613.70V2224.25H1607.15ZM1613.40 2199.25H1619.95V2224.25H1613.40ZM1619.65 2199.25H1626.20V2224.25H1619.65ZM1625.90 2205.50H1632.45V2243.00H1625.90ZM1632.15 2211.75H1638.70V2243.00H1632.15ZM1638.40 2211.75H1644.95V2236.75H1638.40ZM1644.65 2211.75H1651.20V2243.00H1644.65ZM1650.90 2224.25H1657.45V2243.00H1650.90ZM1657.15 2224.25H1663.70V2249.25H1657.15ZM1663.40 2230.50H1669.95V2249.25H1663.40ZM1669.65 2230.50H1676.20V2249.25H1669.65ZM1675.90 2230.50H1682.45V2255.50H1675.90ZM1682.15 2230.50H1688.70V2261.75H1682.15ZM1688.40 2230.50H1694.95V2261.75H1688.40ZM1694.65 2243.00H1701.20V2268.00H1694.65ZM1700.90 2236.75H1707.45V2261.75H1700.90ZM1707.15 2243.00H1713.70V2268.00H1707.15ZM1713.40 2243.00H1719.95V2274.25H1713.40ZM1719.65 2249.25H1726.20V2268.00H1719.65ZM1725.90 2249.25H1732.45V2268.00H1725.90ZM1732.15 2255.50H1738.70V2274.25H1732.15ZM1738.40 2255.50H1744.95V2268.00H1738.40ZM1744.65 2255.50H1751.20V2274.25H1744.65ZM1750.90 2255.50H1757.45V2274.25H1750.90ZM1757.15 2261.75H1763.70V2274.25H1757.15ZM1763.40 2261.75H1769.95V2280.50H1763.40ZM1769.65 2261.75H1776.20V2280.50H1769.65ZM1775.90 2261.75H1782.45V2280.50H1775.90ZM1782.15 2261.75H1788.70V2293.00H1782.15Z"/>
<path fill="#000" d="M369.65 1774.25H376.20V1843.00H369.65ZM375.90 1786.75H382.45V1836.75H375.90ZM382.15 1793.00H388.70V1836.75H382.15ZM388.40 1793.00H394.95V1836.75H388.40ZM394.65 1793.00H401.20V1836.75H394.65ZM400.90 1793.00H407.45V1830.50H400.90ZM407.15 1793.00H413.70V1843.00H407.15ZM413.40 1793.00H419.95V1830.50H413.40ZM419.65 1793.00H426.20V1830.50H419.65ZM425.90 1786.75H432.45V1830.50H425.90ZM432.15 1786.75H438.70V1836.75H432.15ZM438.40 1786.75H444.95V1830.50H438.40ZM444.65 1786.75H451.20V1830.50H444.65ZM450.90 1786.75H457.45V1830.50H450.90ZM457.15 1786.75H463.70V1830.50H457.15ZM463.40 1793.00H469.95V1830.50H463.40ZM469.65 1793.00H476.20V1830.50H469.65ZM475.90 1786.75H482.45V1830.50H475.90ZM482.15 1786.75H488.70V1824.25H482.15ZM488.40 1761.75H494.95V1830.50H488.40ZM494.65 1780.50H501.20V1836.75H494.65ZM500.90 1786.75H507.45V1836.75H500.90ZM507.15 1780.50H513.70V1818.00H507.15ZM513.40 1768.00H519.95V1824.25H513.40ZM519.65 1780.50H526.20V1830.50H519.65ZM525.90 1786.75H532.45V1818.00H525.90ZM532.15 1780.50H538.70V1843.00H532.15ZM538.40 1780.50H544.95V1811.75H538.40ZM544.65 1774.25H551.20V1824.25H544.65ZM550.90 1774.25H557.45V1818.00H550.90ZM557.15 1774.25H563.70V1818.00H557.15ZM563.40 1761.75H569.95V1811.75H563.40ZM569.65 1780.50H576.20V1811.75H569.65ZM575.90 1780.50H582.45V1818.00H575.90ZM582.15 1774.25H588.70V1805.50H582.15ZM588.40 1774.25H594.95V1824.25H588.40ZM594.65 1768.00H601.20V1818.00H594.65ZM600.90 1774.25H607.45V1805.50H600.90ZM607.15 1768.00H613.70V1811.75H607.15ZM613.40 1761.75H619.95V1805.50H613.40ZM619.65 1768.00H626.20V1818.00H619.65ZM625.90 1768.00H632.45V1799.25H625.90ZM632.15 1768.00H638.70V1805.50H632.15ZM638.40 1755.50H644.95V1805.50H638.40ZM644.65 1761.75H651.20V1793.00H644.65ZM650.90 1768.00H657.45V1793.00H650.90ZM657.15 1761.75H663.70V1805.50H657.15ZM663.40 1736.75H669.95V1805.50H663.40ZM669.65 1736.75H676.20V1793.00H669.65ZM675.90 1749.25H682.45V1799.25H675.90ZM682.15 1730.50H688.70V1793.00H682.15ZM688.40 1749.25H694.95V1786.75H688.40ZM694.65 1749.25H701.20V1799.25H694.65ZM700.90 1743.00H707.45V1805.50H700.90ZM707.15 1743.00H713.70V1786.75H707.15ZM713.40 1743.00H719.95V1786.75H713.40ZM719.65 1743.00H726.20V1786.75H719.65ZM725.90 1736.75H732.45V1774.25H725.90ZM732.15 1736.75H738.70V1774.25H732.15ZM738.40 1718.00H744.95V1774.25H738.40ZM744.65 1718.00H751.20V1768.00H744.65ZM750.90 1711.75H757.45V1761.75H750.90ZM757.15 1718.00H763.70V1761.75H757.15ZM763.40 1711.75H769.95V1749.25H763.40ZM769.65 1705.50H776.20V1743.00H769.65ZM775.90 1705.50H782.45V1749.25H775.90ZM782.15 1699.25H788.70V1743.00H782.15ZM788.40 1680.50H794.95V1736.75H788.40ZM794.65 1686.75H801.20V1730.50H794.65ZM800.90 1680.50H807.45V1730.50H800.90ZM807.15 1668.00H813.70V1718.00H807.15ZM813.40 1668.00H819.95V1718.00H813.40ZM819.65 1668.00H826.20V1718.00H819.65ZM825.90 1674.25H832.45V1711.75H825.90ZM832.15 1636.75H838.70V1711.75H832.15ZM838.40 1655.50H844.95V1724.25H838.40ZM844.65 1643.00H851.20V1693.00H844.65ZM850.90 1643.00H857.45V1693.00H850.90ZM857.15 1636.75H863.70V1680.50H857.15ZM863.40 1624.25H869.95V1680.50H863.40ZM869.65 1624.25H876.20V1674.25H869.65ZM875.90 1618.00H882.45V1661.75H875.90ZM882.15 1624.25H888.70V1655.50H882.15ZM888.40 1605.50H894.95V1661.75H888.40ZM894.65 1599.25H901.20V1655.50H894.65ZM900.90 1599.25H907.45V1661.75H900.90ZM907.15 1586.75H913.70V1636.75H907.15ZM913.40 1586.75H919.95V1636.75H913.40ZM919.65 1586.75H926.20V1655.50H919.65ZM925.90 1580.50H932.45V1630.50H925.90ZM932.15 1561.75H938.70V1624.25H932.15ZM938.40 1574.25H944.95V1624.25H938.40ZM944.65 1574.25H951.20V1611.75H944.65ZM950.90 1549.25H957.45V1618.00H950.90ZM957.15 1555.50H963.70V1611.75H957.15ZM963.40 1568.00H969.95V1611.75H963.40ZM969.65 1568.00H976.20V1618.00H969.65ZM975.90 1574.25H982.45V1611.75H975.90ZM982.15 1574.25H988.70V1611.75H982.15ZM988.40 1561.75H994.95V1618.00H988.40ZM994.65 1568.00H1001.20V1618.00H994.65ZM1000.90 1561.75H1007.45V1618.00H1000.90ZM1007.15 1555.50H1013.70V1618.00H1007.15ZM1013.40 1568.00H1019.95V1611.75H1013.40ZM1019.65 1568.00H1026.20V1605.50H1019.65ZM1025.90 1568.00H1032.45V1618.00H1025.90ZM1032.15 1574.25H1038.70V1611.75H1032.15ZM1038.40 1561.75H1044.95V1618.00H1038.40ZM1044.65 1561.75H1051.20V1605.50H1044.65ZM1050.90 1561.75H1057.45V1611.75H1050.90ZM1057.15 1555.50H1063.70V1599.25H1057.15ZM1063.40 1561.75H1069.95V1599.25H1063.40ZM1069.65 1555.50H1076.20V1599.25H1069.65ZM1075.90 1536.75H1082.45V1599.25H1075.90ZM1082.15 1543.00H1088.70V1593.00H1082.15ZM1088.40 1530.50H1094.95V1580.50H1088.40ZM1094.65 1530.50H1101.20V1586.75H1094.65ZM1100.90 1524.25H1107.45V1568.00H1100.90ZM1107.15 1511.75H1113.70V1561.75H1107.15ZM1113.40 1505.50H1119.95V1555.50H1113.40ZM1119.65 1499.25H1126.20V1543.00H1119.65ZM1125.90 1480.50H1132.45V1530.50H1125.90ZM1132.15 1474.25H1138.70V1505.50H1132.15ZM1138.40 1449.25H1144.95V1493.00H1138.40ZM1144.65 1430.50H1151.20V1461.75H1144.65ZM1150.90 1393.00H1157.45V1443.00H1150.90ZM1157.15 1355.50H1163.70V1405.50H1157.15ZM1163.40 1311.75H1169.95V1374.25H1163.40ZM1169.65 1243.00H1176.20V1324.25H1169.65ZM1175.90 1155.50H1182.45V1255.50H1175.90ZM1182.15 1049.25H1188.70V1174.25H1182.15ZM1188.40 936.75H1194.95V1061.75H1188.40ZM1194.65 843.00H1201.20V949.25H1194.65ZM1200.90 768.00H1207.45V861.75H1200.90ZM1207.15 774.25H1213.70V861.75H1207.15ZM1213.40 843.00H1219.95V936.75H1213.40ZM1219.65 918.00H1226.20V1036.75H1219.65ZM1225.90 1024.25H1232.45V1130.50H1225.90ZM1232.15 1111.75H1238.70V1205.50H1232.15ZM1238.40 1193.00H1244.95V1274.25H1238.40ZM1244.65 1255.50H1251.20V1330.50H1244.65ZM1250.90 1311.75H1257.45V1361.75H1250.90ZM1257.15 1343.00H1263.70V1405.50H1257.15ZM1263.40 1386.75H1269.95V1430.50H1263.40ZM1269.65 1411.75H1276.20V1468.00H1269.65ZM1275.90 1449.25H1282.45V1480.50H1275.90ZM1282.15 1468.00H1288.70V1499.25H1282.15ZM1288.40 1480.50H1294.95V1511.75H1288.40ZM1294.65 1486.75H1301.20V1530.50H1294.65ZM1300.90 1505.50H1307.45V1536.75H1300.90ZM1307.15 1511.75H1313.70V1549.25H1307.15ZM1313.40 1524.25H1319.95V1555.50H1313.40ZM1319.65 1536.75H1326.20V1574.25H1319.65ZM1325.90 1549.25H1332.45V1599.25H1325.90ZM1332.15 1555.50H1338.70V1605.50H1332.15ZM1338.40 1574.25H1344.95V1605.50H1338.40ZM1344.65 1574.25H1351.20V1618.00H1344.65ZM1350.90 1593.00H1357.45V1618.00H1350.90ZM1357.15 1599.25H1363.70V1630.50H1357.15ZM1363.40 1605.50H1369.95V1643.00H1363.40ZM1369.65 1618.00H1376.20V1649.25H1369.65ZM1375.90 1624.25H1382.45V1649.25H1375.90ZM1382.15 1630.50H1388.70V1668.00H1382.15ZM1388.40 1636.75H1394.95V1674.25H1388.40ZM1394.65 1649.25H1401.20V1674.25H1394.65ZM1400.90 1649.25H1407.45V1674.25H1400.90ZM1407.15 1655.50H1413.70V1680.50H1407.15ZM1413.40 1661.75H1419.95V1686.75H1413.40ZM1419.65 1661.75H1426.20V1693.00H1419.65ZM1425.90 1668.00H1432.45V1693.00H1425.90ZM1432.15 1674.25H1438.70V1699.25H1432.15ZM1438.40 1674.25H1444.95V1699.25H1438.40ZM1444.65 1680.50H1451.20V1705.50H1444.65ZM1450.90 1668.00H1457.45V1705.50H1450.90ZM1457.15 1680.50H1463.70V1705.50H1457.15ZM1463.40 1686.75H1469.95V1705.50H1463.40ZM1469.65 1686.75H1476.20V1711.75H1469.65ZM1475.90 1686.75H1482.45V1711.75H1475.90ZM1482.15 1693.00H1488.70V1711.75H1482.15ZM1488.40 1693.00H1494.95V1711.75H1488.40ZM1494.65 1693.00H1501.20V1711.75H1494.65ZM1500.90 1680.50H1507.45V1718.00H1500.90ZM1507.15 1699.25H1513.70V1718.00H1507.15ZM1513.40 1699.25H1519.95V1718.00H1513.40ZM1519.65 1699.25H1526.20V1724.25H1519.65ZM1525.90 1705.50H1532.45V1718.00H1525.90ZM1532.15 1699.25H1538.70V1724.25H1532.15ZM1538.40 1699.25H1544.95V1730.50H1538.40ZM1544.65 1699.25H1551.20V1718.00H1544.65ZM1550.90 1699.25H1557.45V1724.25H1550.90ZM1557.15 1693.00H1563.70V1724.25H1557.15ZM1563.40 1699.25H1569.95V1724.25H1563.40ZM1569.65 1699.25H1576.20V1724.25H1569.65ZM1575.90 1705.50H1582.45V1724.25H1575.90ZM1582.15 1699.25H1588.70V1724.25H1582.15ZM1588.40 1705.50H1594.95V1724.25H1588.40ZM1594.65 1705.50H1601.20V1724.25H1594.65ZM1600.90 1705.50H1607.45V1730.50H1600.90ZM1607.15 1705.50H1613.70V1724.25H1607.15ZM1613.40 1699.25H1619.95V1724.25H1613.40ZM1619.65 1711.75H1626.20V1724.25H1619.65ZM1625.90 1705.50H1632.45V1724.25H1625.90ZM1632.15 1711.75H1638.70V1730.50H1632.15ZM1638.40 1711.75H1644.95V1730.50H1638.40ZM1644.65 1711.75H1651.20V1736.75H1644.65ZM1650.90 1711.75H1657.45V1736.75H1650.90ZM1657.15 1711.75H1663.70V1736.75H1657.15ZM1663.40 1718.00H1669.95V1743.00H1663.40ZM1669.65 1724.25H1676.20V1743.00H1669.65ZM1675.90 1724.25H1682.45V1749.25H1675.90ZM1682.15 1730.50H1688.70V1749.25H1682.15ZM1688.40 1730.50H1694.95V1749.25H1688.40ZM1694.65 1730.50H1701.20V1749.25H1694.65ZM1700.90 1730.50H1707.45V1755.50H1700.90ZM1707.15 1730.50H1713.70V1755.50H1707.15ZM1713.40 1736.75H1719.95V1761.75H1713.40ZM1719.65 1743.00H1726.20V1761.75H1719.65ZM1725.90 1736.75H1732.45V1761.75H1725.90ZM1732.15 1743.00H1738.70V1761.75H1732.15ZM1738.40 1743.00H1744.95V1761.75H1738.40ZM1744.65 1743.00H1751.20V1761.75H1744.65ZM1750.90 1743.00H1757.45V1768.00H1750.90ZM1757.15 1743.00H1763.70V1768.00H1757.15ZM1763.40 1736.75H1769.95V1774.25H1763.40ZM1769.65 1749.25H1776.20V1768.00H1769.65ZM1775.90 1736.75H1782.45V1768.00H1775.90ZM1782.15 1743.00H1788.70V1774.25H1782.15Z"/>
<rect x="1200.9" y="86.8" width="6.2" height="1468.8" fill="#000"/>
<path fill="#f00" d="M369.65 1293.00H376.20V1318.00H369.65ZM375.90 1293.00H382.45V1318.00H375.90ZM382.15 1293.00H388.70V1311.75H382.15ZM388.40 1286.75H394.95V1311.75H388.40ZM394.65 1286.75H401.20V1324.25H394.65ZM400.90 1286.75H407.45V1318.00H400.90ZM407.15 1286.75H413.70V1311.75H407.15ZM413.40 1286.75H419.95V1311.75H413.40ZM419.65 1274.25H426.20V1311.75H419.65ZM425.90 1286.75H432.45V1311.75H425.90ZM432.15 1293.00H438.70V1311.75H432.15ZM438.40 1286.75H444.95V1311.75H438.40ZM444.65 1286.75H451.20V1311.75H444.65ZM450.90 1280.50H457.45V1311.75H450.90ZM457.15 1286.75H463.70V1311.75H457.15ZM463.40 1286.75H469.95V1311.75H463.40ZM469.65 1280.50H476.20V1311.75H469.65ZM475.90 1286.75H482.45V1305.50H475.90ZM482.15 1280.50H488.70V1305.50H482.15ZM488.40 1280.50H494.95V1311.75H488.40ZM494.65 1286.75H501.20V1305.50H494.65ZM500.90 1280.50H507.45V1305.50H500.90ZM507.15 1286.75H513.70V1311.75H507.15ZM513.40 1280.50H519.95V1311.75H513.40ZM519.65 1280.50H526.20V1305.50H519.65ZM525.90 1280.50H532.45V1305.50H525.90ZM532.15 1280.50H538.70V1305.50H532.15ZM538.40 1280.50H544.95V1299.25H538.40ZM544.65 1280.50H551.20V1305.50H544.65ZM550.90 1280.50H557.45V1305.50H550.90ZM557.15 1268.00H563.70V1299.25H557.15ZM563.40 1280.50H569.95V1311.75H563.40ZM569.65 1280.50H576.20V1299.25H569.65ZM575.90 1280.50H582.45V1311.75H575.90ZM582.15 1268.00H588.70V1299.25H582.15ZM588.40 1280.50H594.95V1311.75H588.40ZM594.65 1280.50H601.20V1305.50H594.65ZM600.90 1274.25H607.45V1299.25H600.90ZM607.15 1274.25H613.70V1299.25H607.15ZM613.40 1274.25H619.95V1299.25H613.40ZM619.65 1274.25H626.20V1299.25H619.65ZM625.90 1274.25H632.45V1299.25H625.90ZM632.15 1268.00H638.70V1311.75H632.15ZM638.40 1274.25H644.95V1299.25H638.40ZM644.65 1274.25H651.20V1299.25H644.65ZM650.90 1268.00H657.45V1293.00H650.90ZM657.15 1261.75H663.70V1305.50H657.15ZM663.40 1268.00H669.95V1293.00H663.40ZM669.65 1261.75H676.20V1286.75H669.65ZM675.90 1255.50H682.45V1286.75H675.90ZM682.15 1261.75H688.70V1286.75H682.15ZM688.40 1255.50H694.95V1286.75H688.40ZM694.65 1255.50H701.20V1286.75H694.65ZM700.90 1255.50H707.45V1286.75H700.90ZM707.15 1255.50H713.70V1280.50H707.15ZM713.40 1249.25H719.95V1280.50H713.40ZM719.65 1243.00H726.20V1274.25H719.65ZM725.90 1243.00H732.45V1280.50H725.90ZM732.15 1243.00H738.70V1274.25H732.15ZM738.40 1249.25H744.95V1268.00H738.40ZM744.65 1236.75H751.20V1268.00H744.65ZM750.90 1236.75H757.45V1268.00H750.90ZM757.15 1236.75H763.70V1261.75H757.15ZM763.40 1236.75H769.95V1261.75H763.40ZM769.65 1230.50H776.20V1255.50H769.65ZM775.90 1224.25H782.45V1255.50H775.90ZM782.15 1224.25H788.70V1255.50H782.15ZM788.40 1218.00H794.95V1243.00H788.40ZM794.65 1218.00H801.20V1243.00H794.65ZM800.90 1205.50H807.45V1236.75H800.90ZM807.15 1205.50H813.70V1236.75H807.15ZM813.40 1205.50H819.95V1230.50H813.40ZM819.65 1199.25H826.20V1224.25H819.65ZM825.90 1193.00H832.45V1224.25H825.90ZM832.15 1193.00H838.70V1218.00H832.15ZM838.40 1180.50H844.95V1211.75H838.40ZM844.65 1180.50H851.20V1218.00H844.65ZM850.90 1174.25H857.45V1205.50H850.90ZM857.15 1174.25H863.70V1199.25H857.15ZM863.40 1168.00H869.95V1211.75H863.40ZM869.65 1161.75H876.20V1193.00H869.65ZM875.90 1155.50H882.45V1180.50H875.90ZM882.15 1155.50H888.70V1186.75H882.15ZM888.40 1149.25H894.95V1174.25H888.40ZM894.65 1136.75H901.20V1174.25H894.65ZM900.90 1143.00H907.45V1168.00H900.90ZM907.15 1118.00H913.70V1161.75H907.15ZM913.40 1124.25H919.95V1155.50H913.40ZM919.65 1118.00H926.20V1155.50H919.65ZM925.90 1105.50H932.45V1143.00H925.90ZM932.15 1111.75H938.70V1136.75H932.15ZM938.40 1105.50H944.95V1143.00H938.40ZM944.65 1099.25H951.20V1130.50H944.65ZM950.90 1099.25H957.45V1124.25H950.90ZM957.15 1105.50H963.70V1124.25H957.15ZM963.40 1099.25H969.95V1130.50H963.40ZM969.65 1105.50H976.20V1130.50H969.65ZM975.90 1099.25H982.45V1130.50H975.90ZM982.15 1105.50H988.70V1136.75H982.15ZM988.40 1105.50H994.95V1136.75H988.40ZM994.65 1111.75H1001.20V1136.75H994.65ZM1000.90 1111.75H1007.45V1136.75H1000.90ZM1007.15 1111.75H1013.70V1136.75H1007.15ZM1013.40 1118.00H1019.95V1143.00H1013.40ZM1019.65 1118.00H1026.20V1143.00H1019.65ZM1025.90 1111.75H1032.45V1143.00H1025.90ZM1032.15 1118.00H1038.70V1143.00H1032.15ZM1038.40 1111.75H1044.95V1143.00H1038.40ZM1044.65 1118.00H1051.20V1155.50H1044.65ZM1050.90 1111.75H1057.45V1136.75H1050.90ZM1057.15 1105.50H1063.70V1136.75H1057.15ZM1063.40 1111.75H1069.95V1136.75H1063.40ZM1069.65 1105.50H1076.20V1130.50H1069.65ZM1075.90 1099.25H1082.45V1124.25H1075.90ZM1082.15 1093.00H1088.70V1124.25H1082.15ZM1088.40 1093.00H1094.95V1124.25H1088.40ZM1094.65 1093.00H1101.20V1124.25H1094.65ZM1100.90 1086.75H1107.45V1118.00H1100.90ZM1107.15 1086.75H1113.70V1111.75H1107.15ZM1113.40 1080.50H1119.95V1118.00H1113.40ZM1119.65 1074.25H1126.20V1105.50H1119.65ZM1125.90 1068.00H1132.45V1099.25H1125.90ZM1132.15 1055.50H1138.70V1080.50H1132.15ZM1138.40 1024.25H1144.95V1061.75H1138.40ZM1144.65 993.00H1151.20V1030.50H1144.65ZM1150.90 961.75H1157.45V999.25H1150.90ZM1157.15 911.75H1163.70V968.00H1157.15ZM1163.40 874.25H1169.95V918.00H1163.40ZM1169.65 805.50H1176.20V880.50H1169.65ZM1175.90 705.50H1182.45V811.75H1175.90ZM1182.15 611.75H1188.70V711.75H1182.15ZM1188.40 480.50H1194.95V618.00H1188.40ZM1194.65 349.25H1201.20V486.75H1194.65ZM1200.90 318.00H1207.45V355.50H1200.90ZM1207.15 318.00H1213.70V380.50H1207.15ZM1213.40 374.25H1219.95V468.00H1213.40ZM1219.65 461.75H1226.20V593.00H1219.65ZM1225.90 586.75H1232.45V705.50H1225.90ZM1232.15 699.25H1238.70V799.25H1232.15ZM1238.40 793.00H1244.95V874.25H1238.40ZM1244.65 868.00H1251.20V930.50H1244.65ZM1250.90 924.25H1257.45V968.00H1250.90ZM1257.15 961.75H1263.70V999.25H1257.15ZM1263.40 993.00H1269.95V1024.25H1263.40ZM1269.65 1018.00H1276.20V1049.25H1269.65ZM1275.90 1043.00H1282.45V1068.00H1275.90ZM1282.15 1055.50H1288.70V1093.00H1282.15ZM1288.40 1068.00H1294.95V1105.50H1288.40ZM1294.65 1086.75H1301.20V1118.00H1294.65ZM1300.90 1099.25H1307.45V1124.25H1300.90ZM1307.15 1105.50H1313.70V1136.75H1307.15ZM1313.40 1118.00H1319.95V1136.75H1313.40ZM1319.65 1118.00H1326.20V1149.25H1319.65ZM1325.90 1124.25H1332.45V1161.75H1325.90ZM1332.15 1136.75H1338.70V1168.00H1332.15ZM1338.40 1149.25H1344.95V1168.00H1338.40ZM1344.65 1149.25H1351.20V1174.25H1344.65ZM1350.90 1155.50H1357.45V1174.25H1350.90ZM1357.15 1155.50H1363.70V1180.50H1357.15ZM1363.40 1155.50H1369.95V1186.75H1363.40ZM1369.65 1168.00H1376.20V1193.00H1369.65ZM1375.90 1168.00H1382.45V1193.00H1375.90ZM1382.15 1174.25H1388.70V1193.00H1382.15ZM1388.40 1180.50H1394.95V1199.25H1388.40ZM1394.65 1180.50H1401.20V1205.50H1394.65ZM1400.90 1186.75H1407.45V1205.50H1400.90ZM1407.15 1186.75H1413.70V1205.50H1407.15ZM1413.40 1186.75H1419.95V1211.75H1413.40ZM1419.65 1193.00H1426.20V1218.00H1419.65ZM1425.90 1193.00H1432.45V1211.75H1425.90ZM1432.15 1199.25H1438.70V1218.00H1432.15ZM1438.40 1199.25H1444.95V1218.00H1438.40ZM1444.65 1205.50H1451.20V1224.25H1444.65ZM1450.90 1211.75H1457.45V1224.25H1450.90ZM1457.15 1211.75H1463.70V1224.25H1457.15ZM1463.40 1211.75H1469.95V1230.50H1463.40ZM1469.65 1211.75H1476.20V1230.50H1469.65ZM1475.90 1218.00H1482.45V1230.50H1475.90ZM1482.15 1211.75H1488.70V1236.75H1482.15ZM1488.40 1218.00H1494.95V1230.50H1488.40ZM1494.65 1218.00H1501.20V1230.50H1494.65ZM1500.90 1218.00H1507.45V1230.50H1500.90ZM1507.15 1218.00H1513.70V1243.00H1507.15ZM1513.40 1218.00H1519.95V1230.50H1513.40ZM1519.65 1218.00H1526.20V1230.50H1519.65ZM1525.90 1218.00H1532.45V1236.75H1525.90ZM1532.15 1218.00H1538.70V1230.50H1532.15ZM1538.40 1211.75H1544.95V1236.75H1538.40ZM1544.65 1218.00H1551.20V1236.75H1544.65ZM1550.90 1218.00H1557.45V1230.50H1550.90ZM1557.15 1218.00H1563.70V1230.50H1557.15ZM1563.40 1218.00H1569.95V1230.50H1563.40ZM1569.65 1218.00H1576.20V1236.75H1569.65ZM1575.90 1224.25H1582.45V1236.75H1575.90ZM1582.15 1218.00H1588.70V1236.75H1582.15ZM1588.40 1224.25H1594.95V1236.75H1588.40ZM1594.65 1224.25H1601.20V1236.75H1594.65ZM1600.90 1218.00H1607.45V1236.75H1600.90ZM1607.15 1218.00H1613.70V1236.75H1607.15ZM1613.40 1224.25H1619.95V1236.75H1613.40ZM1619.65 1218.00H1626.20V1243.00H1619.65ZM1625.90 1230.50H1632.45V1243.00H1625.90ZM1632.15 1230.50H1638.70V1243.00H1632.15ZM1638.40 1230.50H1644.95V1243.00H1638.40ZM1644.65 1230.50H1651.20V1249.25H1644.65ZM1650.90 1236.75H1657.45V1249.25H1650.90ZM1657.15 1230.50H1663.70V1249.25H1657.15ZM1663.40 1230.50H1669.95V1249.25H1663.40ZM1669.65 1230.50H1676.20V1249.25H1669.65ZM1675.90 1236.75H1682.45V1249.25H1675.90ZM1682.15 1236.75H1688.70V1249.25H1682.15ZM1688.40 1236.75H1694.95V1249.25H1688.40ZM1694.65 1230.50H1701.20V1249.25H1694.65ZM1700.90 1236.75H1707.45V1255.50H1700.90ZM1707.15 1236.75H1713.70V1255.50H1707.15ZM1713.40 1243.00H1719.95V1255.50H1713.40ZM1719.65 1243.00H1726.20V1255.50H1719.65ZM1725.90 1243.00H1732.45V1255.50H1725.90ZM1732.15 1243.00H1738.70V1255.50H1732.15ZM1738.40 1243.00H1744.95V1261.75H1738.40ZM1744.65 1236.75H1751.20V1255.50H1744.65ZM1750.90 1249.25H1757.45V1255.50H1750.90ZM1757.15 1249.25H1763.70V1255.50H1757.15ZM1763.40 1243.00H1769.95V1261.75H1763.40ZM1769.65 1249.25H1776.20V1261.75H1769.65ZM1775.90 1249.25H1782.45V1261.75H1775.90ZM1782.15 1249.25H1788.70V1261.75H1782.15Z"/>
<rect x="275.9" y="18.0" width="1706.2" height="12.5" fill="#000"/>
<rect x="263.4" y="24.2" width="12.5" height="2562.5" fill="#000"/>
<rect x="1969.7" y="18.0" width="12.5" height="2568.8" fill="#000"/>
<rect x="263.4" y="2574.2" width="1718.8" height="12.5" fill="#000"/>
<rect x="550.9" y="2586.8" width="12.5" height="31.2" fill="#000"/>
<rect x="925.9" y="2586.8" width="12.5" height="31.2" fill="#000"/>
<rect x="1307.2" y="2586.8" width="12.5" height="31.2" fill="#000"/>
<rect x="1682.2" y="2586.8" width="12.5" height="31.2" fill="#000"/>
<rect x="363.4" y="2586.8" width="12.5" height="12.5" fill="#000"/>
<rect x="738.4" y="2586.8" width="12.5" height="12.5" fill="#000"/>
<rect x="1113.4" y="2586.8" width="12.5" height="12.5" fill="#000"/>
<rect x="1494.7" y="2586.8" width="12.5" height="12.5" fill="#000"/>
<rect x="1869.7" y="2586.8" width="12.5" height="12.5" fill="#000"/>
<rect x="1475.9" y="80.5" width="6.2" height="806.2" fill="#efefef"/>
<rect x="1463.4" y="68.0" width="6.2" height="6.2" fill="#eeeeee"/>
<rect x="1469.7" y="68.0" width="487.5" height="6.2" fill="#888"/>
<rect x="1469.7" y="74.2" width="475.0" height="6.2" fill="#bababa"/>
<rect x="1944.7" y="74.2" width="6.2" height="793.8" fill="#c8c8c8"/>
<rect x="1950.9" y="68.0" width="6.2" height="800.0" fill="#a0a0a0"/>
<rect x="1457.2" y="855.5" width="12.5" height="6.2" fill="#e6e6e6"/>
<rect x="1469.7" y="855.5" width="487.5" height="6.2" fill="#a8a8a8"/>
<rect x="1469.7" y="861.8" width="487.5" height="6.2" fill="#999"/>
<rect x="1482.2" y="68.0" width="6.2" height="818.8" fill="#7f7f7f"/>
<rect x="1457.2" y="330.5" width="6.2" height="6.2" fill="#e8e8e8"/>
<rect x="1463.4" y="330.5" width="18.8" height="6.2" fill="#858585"/>
<rect x="1457.2" y="336.8" width="6.2" height="6.2" fill="#efefef"/>
<rect x="1463.4" y="336.8" width="18.8" height="6.2" fill="#c0c0c0"/>
<rect x="1482.2" y="330.5" width="6.2" height="12.5" fill="#6c6c6c"/>
<rect x="1457.2" y="593.0" width="6.2" height="6.2" fill="#e8e8e8"/>
<rect x="1463.4" y="593.0" width="18.8" height="6.2" fill="#858585"/>
<rect x="1457.2" y="599.2" width="6.2" height="6.2" fill="#efefef"/>
<rect x="1463.4" y="599.2" width="18.8" height="6.2" fill="#c0c0c0"/>
<rect x="1482.2" y="593.0" width="6.2" height="12.5" fill="#6c6c6c"/>
<rect x="1475.9" y="199.2" width="6.2" height="6.2" fill="#8f8f8f"/>
<rect x="1475.9" y="205.5" width="6.2" height="6.2" fill="#bbb"/>
<rect x="1475.9" y="461.8" width="6.2" height="6.2" fill="#8f8f8f"/>
<rect x="1475.9" y="468.0" width="6.2" height="6.2" fill="#bbb"/>
<rect x="1475.9" y="724.2" width="6.2" height="6.2" fill="#8f8f8f"/>
<rect x="1475.9" y="730.5" width="6.2" height="6.2" fill="#bbb"/>
<rect x="1600.9" y="868.0" width="6.2" height="12.5" fill="#666"/>
<rect x="1600.9" y="880.5" width="6.2" height="6.2" fill="#bbb"/>
<rect x="1719.7" y="868.0" width="6.2" height="12.5" fill="#666"/>
<rect x="1719.7" y="880.5" width="6.2" height="6.2" fill="#bbb"/>
<rect x="1838.4" y="868.0" width="12.5" height="12.5" fill="#8a8a8a"/>
<rect x="1838.4" y="880.5" width="12.5" height="6.2" fill="#ccc"/>
<polyline points="1604,597 1726,437 1845,233" fill="none" stroke="#bdbdbd" stroke-width="6"/>
<rect x="1588.4" y="580.5" width="31.2" height="31.2" fill="#f00"/>
<rect x="1588.4" y="611.8" width="31.2" height="6.2" fill="#ffc8c8"/>
<polygon points="1726,418 1707,455 1745,455" fill="#000"/>
<polygon points="1845,210 1867,233 1845,256 1823,233" fill="#00f"/>
<text transform="translate(308.78 172.00) scale(1.0561 1.0143)" fill="#000" filter="url(#f_t_ceo)">CeO</text>
<text transform="translate(535.25 216.58) scale(0.5833 0.5797)" fill="#000" filter="url(#f_t_ceo2)">2</text>
<text transform="translate(307.03 360.00) scale(0.9702 0.9429)" fill="#000" filter="url(#f_t_T)">T = 440</text>
<text transform="translate(666.61 342.67) scale(1.0968 0.9667)" fill="#000" filter="url(#f_t_deg)">°</text>
<text transform="translate(709.44 361.00) scale(0.8906 0.9714)" fill="#000" filter="url(#f_t_C)">C</text>
<text transform="translate(300.07 485.00) scale(0.9778 0.9571)" fill="#000" filter="url(#f_t_20)">20%O</text>
<text transform="translate(576.38 523.59) scale(0.5417 0.5942)" fill="#000" filter="url(#f_t_20s)">2</text>
<text transform="translate(606.97 487.00) scale(1.0267 0.9452)" fill="#000" filter="url(#f_t_he)">/He</text>
<text transform="translate(1019.00 169.10) scale(1.0000 1.1029)" fill="#000" filter="url(#f_t_F)">F</text>
<text transform="translate(1087.96 210.78) scale(0.6792 0.6111)" fill="#000" filter="url(#f_t_2g)">2g</text>
<text transform="translate(994.09 374.00) scale(0.9560 0.9855)" fill="#000" filter="url(#f_t_457)">457</text>
<text transform="translate(944.88 750.10) scale(1.0167 1.1029)" fill="#000" filter="url(#f_t_D)">D</text>
<text transform="translate(841.07 886.00) scale(0.9815 0.9714)" fill="#000" filter="url(#f_t_600)">~600</text>
<text transform="translate(1496.67 1149.00) scale(1.0816 1.0714)" fill="#f00" filter="url(#f_t_nc1)">CeO</text>
<text transform="translate(1723.31 1192.62) scale(0.5625 0.6232)" fill="#f00" filter="url(#f_t_nc2)">2</text>
<text transform="translate(1758.88 1149.00) scale(1.0294 1.0714)" fill="#f00" filter="url(#f_t_nc3)">-NC</text>
<text transform="translate(1502.67 1630.00) scale(1.0816 1.0714)" fill="#000" filter="url(#f_t_np1)">CeO</text>
<text transform="translate(1729.31 1674.64) scale(0.5625 0.6377)" fill="#000" filter="url(#f_t_np2)">2</text>
<text transform="translate(1764.73 1631.10) scale(1.0671 1.1029)" fill="#000" filter="url(#f_t_np3)">-NP</text>
<text transform="translate(1496.67 2130.00) scale(1.0816 1.0714)" fill="#00f" filter="url(#f_t_nr1)">CeO</text>
<text transform="translate(1723.31 2174.64) scale(0.5625 0.6377)" fill="#00f" filter="url(#f_t_nr2)">2</text>
<text transform="translate(1758.74 2131.10) scale(1.0647 1.1029)" fill="#00f" filter="url(#f_t_nr3)">-NR</text>
<text transform="translate(480.32 2711.00) scale(0.8931 0.8857)" fill="#000" filter="url(#f_t_800)">800</text>
<text transform="translate(860.53 2711.00) scale(0.8671 0.8857)" fill="#000" filter="url(#f_t_600b)">600</text>
<text transform="translate(1234.20 2711.00) scale(0.9000 0.8857)" fill="#000" filter="url(#f_t_400)">400</text>
<text transform="translate(1616.40 2711.00) scale(0.8679 0.8857)" fill="#000" filter="url(#f_t_200)">200</text>
<text transform="translate(705.79 2866.78) scale(1.0301 1.0108)" fill="#000" filter="url(#f_t_raman)">Raman shift (cm</text>
<text transform="translate(1501.65 2810.40) scale(0.8367 0.6000)" fill="#000" filter="url(#f_t_minus)">−</text>
<text transform="translate(1550.13 2805.63) scale(0.4783 0.6324)" fill="#000" filter="url(#f_t_one)">1</text>
<text transform="translate(1592.00 2866.78) scale(0.8889 1.0108)" fill="#000" filter="url(#f_t_rpar)">)</text>
<text transform="translate(105.00 2184.05) rotate(-90) scale(1.0078 1.0000)" fill="#000" filter="url(#f_t_ylab)">Reduced Normalised Raman Intensity</text>
<text transform="translate(1350.93 90.00) scale(0.5187 0.5429)" fill="#111" filter="url(#f_t_i25)">0.25</text>
<text transform="translate(1350.90 353.00) scale(0.5243 0.5429)" fill="#111" filter="url(#f_t_i20)">0.20</text>
<text transform="translate(1350.93 616.00) scale(0.5187 0.5429)" fill="#111" filter="url(#f_t_i15)">0.15</text>
<text transform="translate(1350.90 875.00) scale(0.5243 0.5429)" fill="#111" filter="url(#f_t_i10)">0.10</text>
<text transform="translate(1548.26 950.00) scale(0.6767 0.7143)" fill="#f00" filter="url(#f_t_iNC)">NC</text>
<text transform="translate(1678.37 950.74) scale(0.6614 0.7353)" fill="#000" filter="url(#f_t_iNP)">NP</text>
<text transform="translate(1804.61 950.74) scale(0.6269 0.7353)" fill="#00f" filter="url(#f_t_iNR)">NR</text>
<text transform="translate(1332.74 567.46) rotate(-90) scale(0.9231 0.7353)" fill="#000" filter="url(#f_t_iI1)">I</text>
<text transform="translate(1363.46 540.03) rotate(-90) scale(0.4333 0.4559)" fill="#000" filter="url(#f_t_iD)">D</text>
<text transform="translate(1338.00 505.72) rotate(-90) scale(0.7200 0.7671)" fill="#000" filter="url(#f_t_iSl)">/</text>
<text transform="translate(1332.74 486.46) rotate(-90) scale(0.9231 0.7353)" fill="#000" filter="url(#f_t_iI2)">I</text>
<text transform="translate(1366.22 464.74) rotate(-90) scale(0.5337 0.4889)" fill="#000" filter="url(#f_t_iF)">F2g</text>
</svg>
</body></html>
